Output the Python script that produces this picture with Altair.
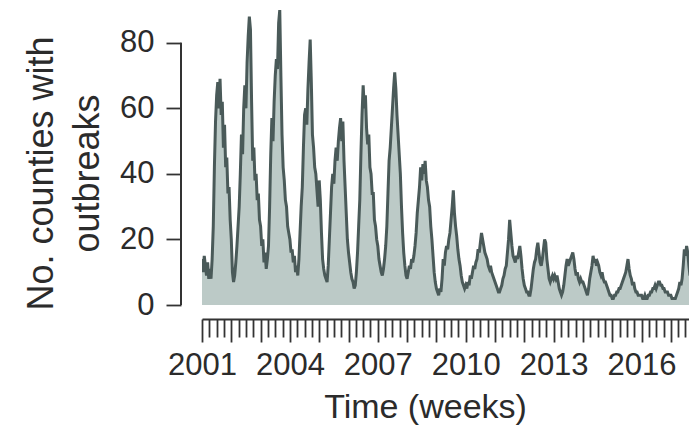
import altair as alt
import pandas as pd

# ---- data (26 values per year, one per ~2 weeks) ----
years = list(range(2001, 2018))
y2001 = [14, 10, 15, 12, 9, 13, 8, 11, 8, 14, 24, 42, 56, 64, 68, 60, 69, 58, 62, 48, 55, 42, 45, 34, 36, 26]
y2002 = [20, 10, 7, 9, 13, 18, 24, 30, 40, 52, 46, 60, 67, 60, 74, 82, 88, 84, 62, 44, 48, 38, 40, 32, 34, 26]
y2003 = [24, 18, 20, 13, 16, 11, 14, 18, 30, 46, 57, 50, 62, 70, 75, 72, 86, 90, 70, 52, 42, 38, 32, 30, 24, 22]
y2004 = [20, 16, 17, 13, 15, 10, 12, 9, 14, 22, 30, 36, 48, 58, 60, 55, 66, 74, 81, 68, 52, 48, 42, 40, 35, 30]
y2005 = [38, 32, 22, 14, 11, 9, 8, 7, 12, 20, 28, 36, 40, 37, 44, 48, 44, 50, 54, 57, 50, 56, 44, 36, 28, 20]
y2006 = [16, 13, 10, 8, 7, 5, 6, 10, 16, 24, 32, 46, 58, 67, 60, 64, 54, 49, 52, 42, 40, 34, 34, 26, 24, 20]
y2007 = [18, 14, 12, 10, 9, 11, 14, 18, 24, 34, 44, 48, 54, 60, 66, 71, 66, 58, 52, 46, 40, 30, 22, 16, 12, 9]
y2008 = [8, 10, 12, 11, 14, 13, 15, 18, 22, 28, 32, 36, 42, 38, 43, 40, 44, 38, 36, 32, 30, 24, 20, 15, 10, 7]
y2009 = [5, 4, 3, 5, 4, 8, 14, 12, 16, 18, 17, 20, 22, 26, 30, 35, 28, 24, 21, 17, 14, 12, 9, 7, 6, 5]
y2010 = [6, 5, 7, 6, 9, 8, 10, 12, 11, 13, 14, 17, 16, 19, 22, 20, 18, 16, 15, 14, 12, 11, 12, 10, 9, 8]
y2011 = [7, 6, 5, 4, 4, 5, 6, 8, 9, 11, 12, 16, 20, 26, 22, 18, 15, 14, 13, 15, 14, 16, 18, 15, 11, 8]
y2012 = [6, 5, 4, 4, 3, 3, 5, 8, 11, 13, 14, 17, 19, 16, 13, 12, 14, 17, 20, 19, 14, 11, 8, 7, 8, 9]
y2013 = [8, 9, 8, 9, 7, 5, 4, 3, 4, 6, 9, 12, 14, 12, 13, 14, 15, 16, 14, 11, 9, 10, 8, 7, 8, 7]
y2014 = [7, 6, 5, 4, 3, 5, 8, 10, 12, 15, 13, 14, 12, 13, 12, 10, 9, 10, 8, 7, 7, 6, 5, 4, 3, 3]
y2015 = [2, 2, 3, 3, 4, 4, 5, 5, 6, 7, 8, 9, 10, 12, 14, 11, 9, 8, 6, 7, 5, 4, 4, 3, 3, 3]
y2016 = [3, 2, 2, 3, 2, 2, 3, 3, 4, 4, 5, 5, 6, 5, 6, 7, 7, 6, 6, 5, 5, 4, 4, 4, 3, 3]
y2017 = [3, 2, 2, 2, 2, 3, 4, 5, 7, 6, 8, 12, 17, 15, 18, 16, 12, 9, 10, 9, 8, 9]
series = [y2001, y2002, y2003, y2004, y2005, y2006, y2007, y2008, y2009,
          y2010, y2011, y2012, y2013, y2014, y2015, y2016, y2017]

y_ticks = [0, 20, 40, 60, 80]
x_ticks = [2001 + q / 4 for q in range(0, 67)]
x_title = "Time (weeks)"
y_title = ["No. counties with", "outbreaks"]

rows = []
for yr, vals in zip(years, series):
    for i, v in enumerate(vals):
        rows.append({"t": yr + i / 26, "n": v})
df = pd.DataFrame(rows)
rule_df = pd.DataFrame({"n": [y_ticks[0]], "hi": [y_ticks[-1]]})

FONT = "Liberation Sans"
TXT = "#2b2b2b"
AX = "#333333"
FILL = "#bccac7"
LINE = "#4a5a59"

xscale = alt.Scale(domain=[2001, 2017.62], nice=False, zero=False)
yscale = alt.Scale(domain=[0, 90], nice=False)

x_axis = alt.Axis(
    values=x_ticks,
    labelExpr="datum.value % 3 == 0 ? format(datum.value, 'd') : ''",
    offset=14, grid=False,
    domainColor=AX, domainWidth=2,
    tickColor=AX, tickWidth=1.8,
    tickSize={"condition": {"test": "datum.value % 1 == 0", "value": 23}, "value": 18},
    labelFont=FONT, labelFontSize=31, labelColor=TXT, labelPadding=8,
    labelOverlap=False, labelFlush=False,
    title=x_title, titleFont=FONT, titleFontSize=34, titleColor=TXT,
    titleFontWeight="normal", titleX=223, titleY=98,
    titleBaseline="alphabetic", titleAlign="center",
)
y_axis = alt.Axis(
    values=y_ticks, offset=21, grid=False, domain=False,
    tickColor=AX, tickWidth=1.8, tickSize=15,
    labelFont=FONT, labelFontSize=31, labelColor=TXT, labelPadding=12,
    labelFlush=False, labelOverlap=False,
    title=y_title, titleFont=FONT, titleFontSize=36, titleColor=TXT,
    titleFontWeight="normal", titleLineHeight=46, titleAngle=270,
    titleX=-129, titleY=163, titleBaseline="alphabetic", titleAlign="center",
)

X = alt.X("t:Q", scale=xscale, axis=x_axis)
Y = alt.Y("n:Q", scale=yscale, axis=y_axis)

area = alt.Chart(df).mark_area(color=FILL, clip=True).encode(x=X, y=Y)
line = alt.Chart(df).mark_line(color=LINE, strokeWidth=3, clip=True).encode(x=X, y=Y)
yline = alt.Chart(rule_df).mark_rule(color=AX, strokeWidth=2).encode(
    y=Y,
    y2="hi:Q",
    x=alt.value(-21),
)

chart = alt.layer(area, line, yline).properties(
    width=487, height=295,
    autosize=alt.AutoSizeParams(type="none"),
    padding={"left": 194, "top": 2, "right": 0, "bottom": 120},
    background="white",
).configure_view(stroke=None)

chart.save("out.html", embed_options={"renderer": "svg", "actions": False})
